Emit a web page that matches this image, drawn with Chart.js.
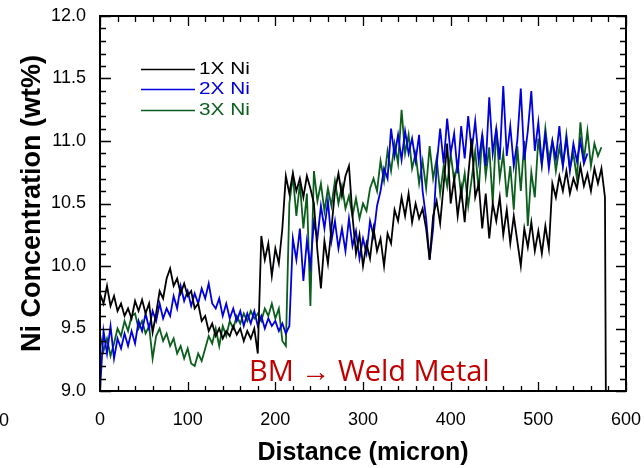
<!DOCTYPE html>
<html>
<head>
<meta charset="utf-8">
<title>Ni Concentration</title>
<script src="https://cdn.jsdelivr.net/npm/chart.js@4.4.1/dist/chart.umd.min.js"></script>
<style>
  html, body { margin: 0; padding: 0; background: #fff; }
  #wrap { width: 644px; height: 468px; }
</style>
</head>
<body>
<div id="wrap"><canvas id="niChart" width="644" height="468"></canvas></div>
<script>
// distance (micron), one reading every 4 micron
const distance = [];
for (let d = 0; d <= 576; d += 4) distance.push(d);

const seriesNames = ['1X Ni', '2X Ni', '3X Ni'];
const seriesColors = ['#000000', '#0000dd', '#0b5e1c'];

// 1X Ni (x = 0..576)
const ni1x = [
  9.78, 9.70, 9.84, 9.68, 9.76, 9.64, 9.70, 9.60, 9.66, 9.58,
  9.72, 9.64, 9.73, 9.62, 9.70, 9.47, 9.62, 9.80, 9.74, 9.90,
  9.98, 9.84, 9.90, 9.78, 9.86, 9.76, 9.80, 9.66, 9.70, 9.56,
  9.60, 9.48, 9.54, 9.44, 9.50, 9.42, 9.48, 9.44, 9.52, 9.45,
  9.50, 9.40, 9.48, 9.42, 9.50, 9.30, 10.24, 10.05, 10.18, 9.92,
  10.14, 10.02, 10.30, 10.72, 10.58, 10.74, 10.60, 10.70, 10.55, 10.72,
  10.62, 10.50, 10.12, 9.82, 10.20, 10.02, 10.30, 10.60, 10.74, 10.56,
  10.72, 10.80, 10.40, 10.10, 10.25, 10.00, 10.18, 10.06, 10.30, 10.12,
  10.22, 10.00, 10.26, 10.18, 10.45, 10.36, 10.55, 10.40, 10.58, 10.35,
  10.50, 10.38, 10.46, 10.30, 10.05, 10.40, 10.52, 10.34, 10.65, 10.98,
  10.50, 10.70, 10.40, 10.62, 10.35, 10.72, 11.02, 10.55, 10.66, 10.30,
  10.58, 10.22, 10.50, 10.36, 10.55, 10.25, 10.45, 10.18, 10.40, 10.20,
  10.00, 10.30, 10.15, 10.35, 10.12, 10.28, 10.10, 10.32, 10.14, 10.66,
  10.55, 10.72, 10.60, 10.76, 10.58, 10.70, 10.62, 10.80, 10.64, 10.74,
  10.60, 10.78, 10.66, 10.78, 10.55
];
// the 1X trace drops straight to the axis at its end
const ni1xTail = [[577, 9.0]];

// 2X Ni (x = 0..556)
const ni2x = [
  9.00, 9.48, 9.30, 9.52, 9.26, 9.42, 9.34, 9.46, 9.36, 9.48,
  9.38, 9.56, 9.48, 9.62, 9.50, 9.64, 9.56, 9.70, 9.58, 9.66,
  9.60, 9.76, 9.66, 9.84, 9.72, 9.80, 9.68, 9.78, 9.70, 9.82,
  9.74, 9.86, 9.70, 9.66, 9.74, 9.60, 9.70, 9.58, 9.66, 9.56,
  9.64, 9.52, 9.62, 9.54, 9.64, 9.52, 9.60, 9.50, 9.58, 9.52,
  9.56, 9.48, 9.54, 9.46, 9.52, 10.22, 10.05, 10.30, 9.88, 10.20,
  10.00, 10.35, 10.22, 10.48, 10.30, 10.52, 10.20, 10.36, 10.14, 10.30,
  10.12, 10.38, 10.16, 10.28, 10.06, 10.22, 10.10, 10.36, 10.24, 10.48,
  10.60, 10.78, 10.70, 11.10, 10.88, 11.05, 10.85, 11.08, 10.90, 11.02,
  10.84, 11.05, 10.60, 10.38, 10.05, 10.30, 10.80, 11.10, 10.82, 11.18,
  10.90, 11.06, 10.74, 11.12, 10.86, 11.20, 10.92, 11.16, 10.84, 11.05,
  10.80, 11.35, 10.90, 11.10, 10.85, 11.44, 10.88, 11.12, 10.80, 11.00,
  11.42, 10.85, 11.08, 11.40, 10.92, 11.15, 10.82, 11.05, 10.78, 11.00,
  10.86, 11.12, 10.80, 11.02, 10.76, 10.98, 10.84, 11.00, 10.82, 10.90
];

// 3X Ni (x = 0..572)
const ni3x = [
  9.45, 9.32, 9.42, 9.28, 9.38, 9.50, 9.44, 9.56, 9.48, 9.60,
  9.62, 9.50, 9.56, 9.46, 9.52, 9.26, 9.44, 9.50, 9.40, 9.46,
  9.36, 9.42, 9.30, 9.36, 9.26, 9.34, 9.22, 9.20, 9.30, 9.24,
  9.34, 9.44, 9.38, 9.50, 9.36, 9.52, 9.44, 9.56, 9.50, 9.60,
  9.54, 9.62, 9.56, 9.64, 9.58, 9.62, 9.56, 9.66, 9.60, 9.70,
  9.58, 9.66, 9.40, 9.36, 10.50, 10.72, 10.40, 10.66, 10.30, 10.58,
  9.68, 10.76, 10.52, 10.66, 10.44, 10.62, 10.48, 10.68, 10.50, 10.64,
  10.46, 10.56, 10.40, 10.54, 10.38, 10.50, 10.44, 10.62, 10.70, 10.60,
  10.84, 10.68, 10.92, 10.76, 10.98, 10.82, 11.25, 10.90, 11.05, 10.78,
  10.90, 10.66, 10.84, 10.62, 10.96, 10.70, 10.86, 10.58, 10.80, 10.64,
  10.90, 10.68, 10.82, 10.56, 10.74, 10.48, 10.70, 10.92, 10.60, 11.05,
  10.72, 10.95, 10.50, 11.10, 10.70, 10.90, 10.55, 10.80, 10.45, 10.96,
  10.60, 11.00, 10.32, 10.75, 10.55, 11.02, 10.80, 11.10, 10.85, 11.00,
  10.76, 10.95, 10.80, 11.05, 10.78, 10.90, 10.70, 11.15, 10.85, 11.08,
  10.80, 10.98, 10.88, 10.95
];

// axis ticks
const xTicks = [0, 100, 200, 300, 400, 500, 600];
const yTicks = [9.0, 9.5, 10.0, 10.5, 11.0, 11.5, 12.0];

function toPoints(values) {
  return values.map((v, i) => ({ x: distance[i], y: v }));
}

const black = toPoints(ni1x).concat(ni1xTail.map(p => ({ x: p[0], y: p[1] })));

// frame, inward ticks, legend and the note, drawn over the plot
const framePlugin = {
  id: 'framePlugin',
  afterDraw(chart) {
    const ctx = chart.ctx;
    const xs = chart.scales.x, ys = chart.scales.y;
    const a = chart.chartArea;
    ctx.save();
    ctx.strokeStyle = '#000';
    ctx.lineWidth = 1.3;
    ctx.beginPath();
    for (let v = 0; v <= 600; v += 20) {
      const px = Math.round(xs.getPixelForValue(v)) + 0.5;
      const major = v % 100 === 0;
      ctx.moveTo(px, a.top); ctx.lineTo(px, a.top + (major ? 10 : 6));
      ctx.moveTo(px, a.bottom); ctx.lineTo(px, a.bottom - (major ? 9 : 5));
    }
    for (let k = 90; k <= 120; k++) {
      const py = Math.round(ys.getPixelForValue(k / 10)) + 0.5;
      const major = k % 5 === 0;
      ctx.moveTo(a.left, py); ctx.lineTo(a.left + (major ? 11 : 6), py);
      ctx.moveTo(a.right, py); ctx.lineTo(a.right - (major ? 10 : 6), py);
    }
    ctx.stroke();

    ctx.lineWidth = 2;
    ctx.strokeRect(a.left, a.top, a.right - a.left, a.bottom - a.top);

    // legend
    const rows = [69, 89, 110];
    ctx.lineWidth = 1.5;
    ctx.font = '16px "Liberation Sans", Arial, sans-serif';
    ctx.textBaseline = 'middle';
    ctx.textAlign = 'left';
    seriesNames.forEach((name, i) => {
      ctx.strokeStyle = seriesColors[i];
      ctx.beginPath();
      ctx.moveTo(141, rows[i] + 0.5);
      ctx.lineTo(195, rows[i] + 0.5);
      ctx.stroke();
      ctx.save();
      ctx.translate(199, rows[i] + 1);
      ctx.scale(1.3, 1);
      ctx.fillStyle = seriesColors[i];
      ctx.fillText(name, 0, 0);
      ctx.restore();
    });

    // note
    ctx.fillStyle = '#c00000';
    ctx.font = '29px "Open Sans", "Noto Sans", sans-serif';
    ctx.textBaseline = 'alphabetic';
    ctx.fillText('BM \u2192 Weld Metal', 249, 381);

    // cut-off label at the far left
    ctx.fillStyle = '#000';
    ctx.font = '18px "Liberation Sans", Arial, sans-serif';
    ctx.textAlign = 'right';
    ctx.textBaseline = 'middle';
    ctx.fillText('0', 9, 421);
    ctx.restore();
  }
};

const ctx = document.getElementById('niChart').getContext('2d');
new Chart(ctx, {
  type: 'line',
  data: {
    datasets: [
      { label: seriesNames[0], data: black, borderColor: seriesColors[0] },
      { label: seriesNames[1], data: toPoints(ni2x), borderColor: seriesColors[1] },
      { label: seriesNames[2], data: toPoints(ni3x), borderColor: seriesColors[2] }
    ]
  },
  options: {
    responsive: false,
    animation: false,
    parsing: false,
    layout: { padding: { top: 16, right: 18, left: 0, bottom: 0 } },
    elements: {
      line: { borderWidth: 1.8, tension: 0, fill: false },
      point: { radius: 0 }
    },
    plugins: { legend: { display: false }, tooltip: { enabled: false } },
    scales: {
      x: {
        type: 'linear',
        min: 0, max: 600,
        afterFit(scale) {
          scale.height = 77;
          scale.paddingLeft = 0;
          scale.paddingRight = 0;
        },
        afterBuildTicks(scale) { scale.ticks = xTicks.map(v => ({ value: v })); },
        grid: { display: false, drawTicks: false },
        border: { display: false },
        ticks: {
          padding: 18,
          color: '#000',
          maxRotation: 0,
          autoSkip: false,
          font: { family: '"Liberation Sans", Arial, sans-serif', size: 18 }
        },
        title: {
          display: true,
          text: 'Distance (micron)',
          color: '#000',
          padding: { top: 0, bottom: 0 },
          font: { family: '"Liberation Sans", Arial, sans-serif', size: 25, weight: 'bold' }
        }
      },
      y: {
        min: 9, max: 12,
        afterFit(scale) {
          scale.width = 100;
          scale.paddingTop = 0;
          scale.paddingBottom = 0;
        },
        afterBuildTicks(scale) { scale.ticks = yTicks.map(v => ({ value: v })); },
        grid: { display: false, drawTicks: false },
        border: { display: false },
        ticks: {
          padding: 14,
          color: '#000',
          autoSkip: false,
          callback: v => v.toFixed(1),
          font: { family: '"Liberation Sans", Arial, sans-serif', size: 18 }
        },
        title: {
          display: true,
          text: 'Ni Concentration (wt%)',
          color: '#000',
          padding: { top: 16, bottom: 0 },
          font: { family: '"Liberation Sans", Arial, sans-serif', size: 27, weight: 'bold' }
        }
      }
    }
  },
  plugins: [framePlugin]
});
</script>
</body>
</html>
